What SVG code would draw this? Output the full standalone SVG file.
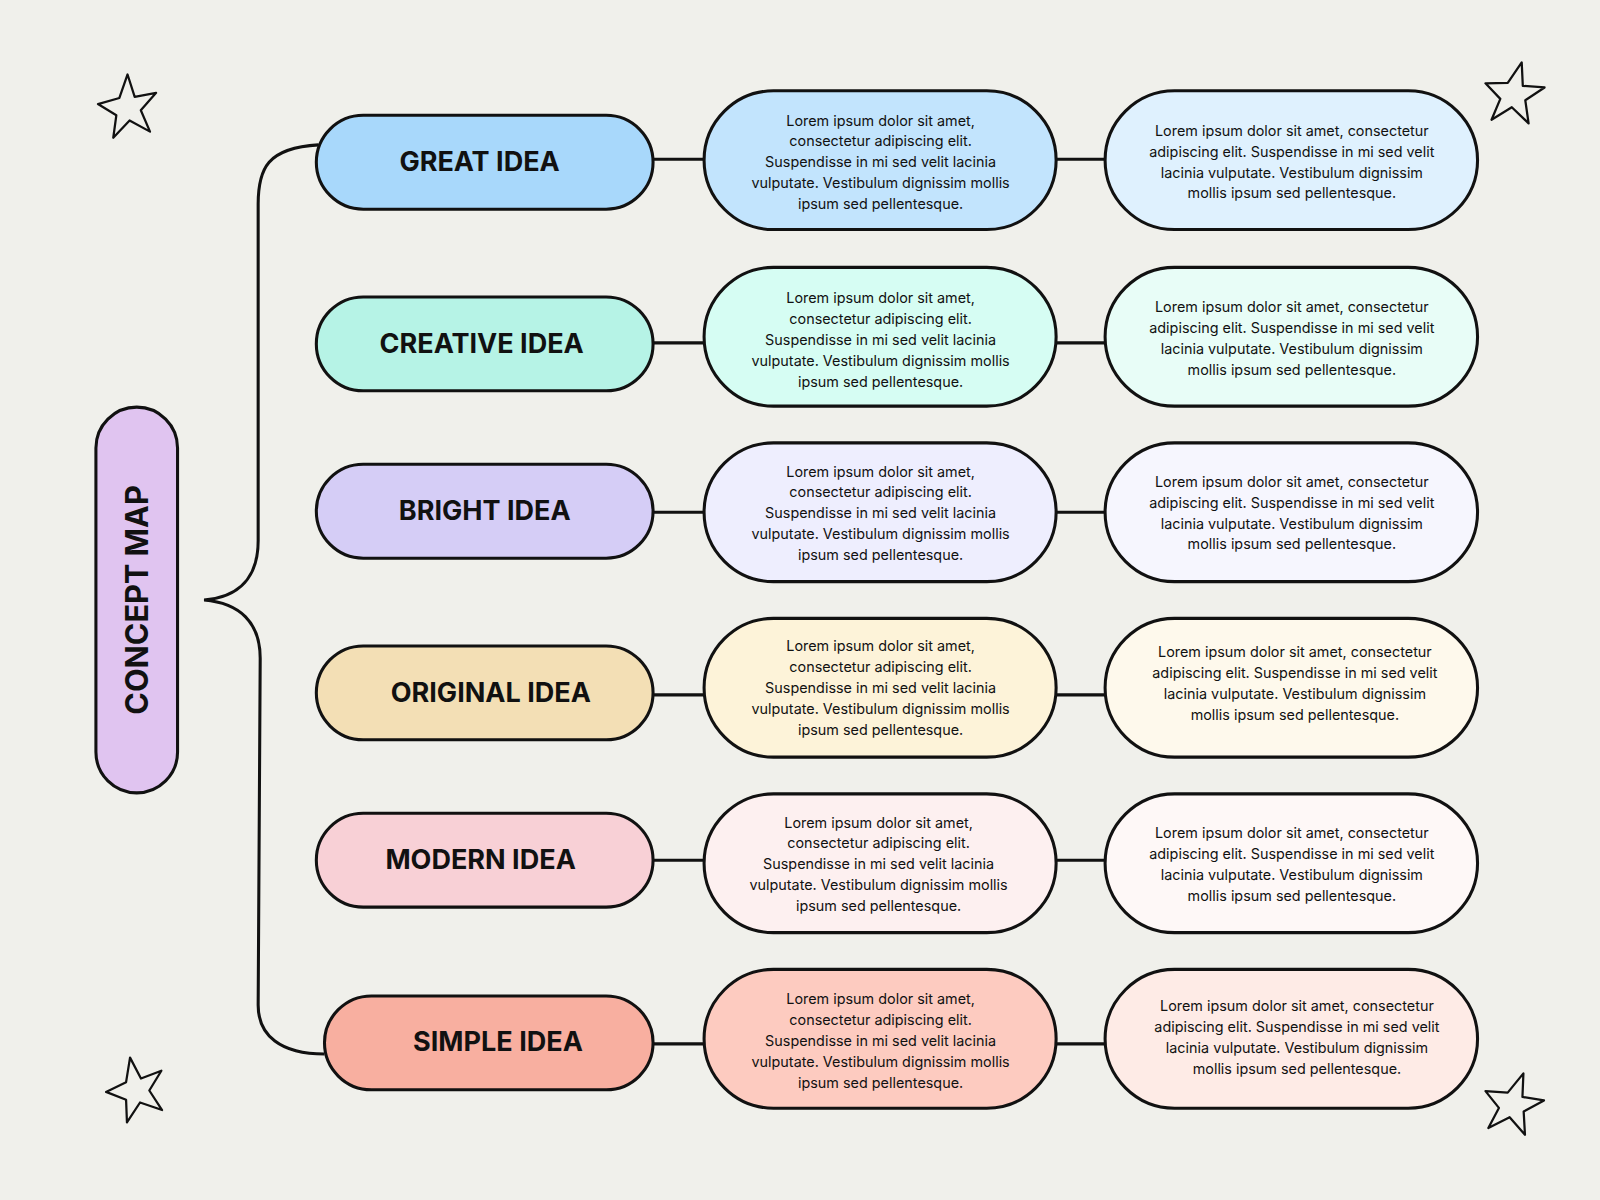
<svg xmlns="http://www.w3.org/2000/svg" width="1600" height="1200" viewBox="0 0 1600 1200">
<defs>
<style>
.o{stroke:#111;stroke-width:3}
.l{font-family:Inter,"Liberation Sans",sans-serif;font-weight:700;font-size:26.5px;fill:#111;text-anchor:middle}
.t{font-family:Inter,"Liberation Sans",sans-serif;font-size:14.1px;fill:#111;text-anchor:middle}
.c{stroke:#111;stroke-width:3;fill:none}
.s{fill:none;stroke:#111;stroke-width:2.2;stroke-linejoin:round}
</style>
<path id="star" d="M0,-32 L7,-10 L28,-14 L13,3 L22,24 L2,13 L-14,30 L-11,8 L-29,-3 L-8,-9 Z"/>
</defs>
<rect width="1600" height="1200" fill="#f0f0eb"/>
<g transform="scale(1.020408)">
<g id="stars">
<use href="#star" x="125" y="105" class="s"/>
<use href="#star" x="1483" y="92" class="s" transform="rotate(15 1483 92)"/>
<use href="#star" x="133" y="1068" class="s" transform="rotate(-10 133 1068)"/>
<use href="#star" x="1482" y="1082" class="s" transform="rotate(20 1482 1082)"/>
</g>
<g id="connectors">
<path class="c" d="M312,142 C262,145 253,165 253,200 L253,530 C253,565 235,585 200,588 C235,591 255,610 255,645 L253,985 C253,1015 275,1033 318,1033"/>
<path class="c" d="M640,156H690M1035,156H1083M640,336H690M1035,336H1083M640,502H690M1035,502H1083M640,681H690M1035,681H1083M640,843H690M1035,843H1083M640,1023H690M1035,1023H1083"/>
</g>
<g id="concept"><rect x="94" y="399" width="80" height="378" rx="40" fill="#e0c4f0" class="o"/><text class="l" transform="translate(145,588) rotate(-90)" style="font-size:30px">CONCEPT MAP</text></g>

<g id="great"><rect x="310" y="113" width="330" height="92" rx="46" fill="#a8d8fb" class="o"/><text class="l" x="470" y="168">GREAT IDEA</text></g>
<g id="creative"><rect x="310" y="291" width="330" height="92" rx="46" fill="#b6f3e6" class="o"/><text class="l" x="472" y="346">CREATIVE IDEA</text></g>
<g id="bright"><rect x="310" y="455" width="330" height="92" rx="46" fill="#d5cdf6" class="o"/><text class="l" x="475" y="510">BRIGHT IDEA</text></g>
<g id="original"><rect x="310" y="633" width="330" height="92" rx="46" fill="#f3dfb5" class="o"/><text class="l" x="481" y="688">ORIGINAL IDEA</text></g>
<g id="modern"><rect x="310" y="797" width="330" height="92" rx="46" fill="#f8d0d6" class="o"/><text class="l" x="471" y="852">MODERN IDEA</text></g>
<g id="simple"><rect x="318" y="976" width="322" height="92" rx="46" fill="#f8afa0" class="o"/><text class="l" x="488" y="1030">SIMPLE IDEA</text></g>

<g id="m1"><rect x="690" y="89" width="345" height="136" rx="68" fill="#c2e4fd" class="o"/><text class="t" x="863" y="123"><tspan x="863">Lorem ipsum dolor sit amet,</tspan><tspan x="863" dy="20.5">consectetur adipiscing elit.</tspan><tspan x="863" dy="20.5">Suspendisse in mi sed velit lacinia</tspan><tspan x="863" dy="20.5">vulputate. Vestibulum dignissim mollis</tspan><tspan x="863" dy="20.5">ipsum sed pellentesque.</tspan></text></g>
<g id="m2"><rect x="690" y="262" width="345" height="136" rx="68" fill="#d6fdf3" class="o"/><text class="t" x="863" y="297"><tspan x="863">Lorem ipsum dolor sit amet,</tspan><tspan x="863" dy="20.5">consectetur adipiscing elit.</tspan><tspan x="863" dy="20.5">Suspendisse in mi sed velit lacinia</tspan><tspan x="863" dy="20.5">vulputate. Vestibulum dignissim mollis</tspan><tspan x="863" dy="20.5">ipsum sed pellentesque.</tspan></text></g>
<g id="m3"><rect x="690" y="434" width="345" height="136" rx="68" fill="#eeeefe" class="o"/><text class="t" x="863" y="467"><tspan x="863">Lorem ipsum dolor sit amet,</tspan><tspan x="863" dy="20.5">consectetur adipiscing elit.</tspan><tspan x="863" dy="20.5">Suspendisse in mi sed velit lacinia</tspan><tspan x="863" dy="20.5">vulputate. Vestibulum dignissim mollis</tspan><tspan x="863" dy="20.5">ipsum sed pellentesque.</tspan></text></g>
<g id="m4"><rect x="690" y="606" width="345" height="136" rx="68" fill="#fdf3d9" class="o"/><text class="t" x="863" y="638"><tspan x="863">Lorem ipsum dolor sit amet,</tspan><tspan x="863" dy="20.5">consectetur adipiscing elit.</tspan><tspan x="863" dy="20.5">Suspendisse in mi sed velit lacinia</tspan><tspan x="863" dy="20.5">vulputate. Vestibulum dignissim mollis</tspan><tspan x="863" dy="20.5">ipsum sed pellentesque.</tspan></text></g>
<g id="m5"><rect x="690" y="778" width="345" height="136" rx="68" fill="#fdf0f0" class="o"/><text class="t" x="861" y="811"><tspan x="861">Lorem ipsum dolor sit amet,</tspan><tspan x="861" dy="20.5">consectetur adipiscing elit.</tspan><tspan x="861" dy="20.5">Suspendisse in mi sed velit lacinia</tspan><tspan x="861" dy="20.5">vulputate. Vestibulum dignissim mollis</tspan><tspan x="861" dy="20.5">ipsum sed pellentesque.</tspan></text></g>
<g id="m6"><rect x="690" y="950" width="345" height="136" rx="68" fill="#fdcbc0" class="o"/><text class="t" x="863" y="984"><tspan x="863">Lorem ipsum dolor sit amet,</tspan><tspan x="863" dy="20.5">consectetur adipiscing elit.</tspan><tspan x="863" dy="20.5">Suspendisse in mi sed velit lacinia</tspan><tspan x="863" dy="20.5">vulputate. Vestibulum dignissim mollis</tspan><tspan x="863" dy="20.5">ipsum sed pellentesque.</tspan></text></g>

<g id="r1"><rect x="1083" y="89" width="365" height="136" rx="68" fill="#dff1fe" class="o"/><text class="t" x="1266" y="133"><tspan x="1266">Lorem ipsum dolor sit amet, consectetur</tspan><tspan x="1266" dy="20.5">adipiscing elit. Suspendisse in mi sed velit</tspan><tspan x="1266" dy="20.5">lacinia vulputate. Vestibulum dignissim</tspan><tspan x="1266" dy="20.5">mollis ipsum sed pellentesque.</tspan></text></g>
<g id="r2"><rect x="1083" y="262" width="365" height="136" rx="68" fill="#e8fdf7" class="o"/><text class="t" x="1266" y="306"><tspan x="1266">Lorem ipsum dolor sit amet, consectetur</tspan><tspan x="1266" dy="20.5">adipiscing elit. Suspendisse in mi sed velit</tspan><tspan x="1266" dy="20.5">lacinia vulputate. Vestibulum dignissim</tspan><tspan x="1266" dy="20.5">mollis ipsum sed pellentesque.</tspan></text></g>
<g id="r3"><rect x="1083" y="434" width="365" height="136" rx="68" fill="#f6f6fe" class="o"/><text class="t" x="1266" y="477"><tspan x="1266">Lorem ipsum dolor sit amet, consectetur</tspan><tspan x="1266" dy="20.5">adipiscing elit. Suspendisse in mi sed velit</tspan><tspan x="1266" dy="20.5">lacinia vulputate. Vestibulum dignissim</tspan><tspan x="1266" dy="20.5">mollis ipsum sed pellentesque.</tspan></text></g>
<g id="r4"><rect x="1083" y="606" width="365" height="136" rx="68" fill="#fef9ec" class="o"/><text class="t" x="1269" y="644"><tspan x="1269">Lorem ipsum dolor sit amet, consectetur</tspan><tspan x="1269" dy="20.5">adipiscing elit. Suspendisse in mi sed velit</tspan><tspan x="1269" dy="20.5">lacinia vulputate. Vestibulum dignissim</tspan><tspan x="1269" dy="20.5">mollis ipsum sed pellentesque.</tspan></text></g>
<g id="r5"><rect x="1083" y="778" width="365" height="136" rx="68" fill="#fef8f7" class="o"/><text class="t" x="1266" y="821"><tspan x="1266">Lorem ipsum dolor sit amet, consectetur</tspan><tspan x="1266" dy="20.5">adipiscing elit. Suspendisse in mi sed velit</tspan><tspan x="1266" dy="20.5">lacinia vulputate. Vestibulum dignissim</tspan><tspan x="1266" dy="20.5">mollis ipsum sed pellentesque.</tspan></text></g>
<g id="r6"><rect x="1083" y="950" width="365" height="136" rx="68" fill="#feebe6" class="o"/><text class="t" x="1271" y="991"><tspan x="1271">Lorem ipsum dolor sit amet, consectetur</tspan><tspan x="1271" dy="20.5">adipiscing elit. Suspendisse in mi sed velit</tspan><tspan x="1271" dy="20.5">lacinia vulputate. Vestibulum dignissim</tspan><tspan x="1271" dy="20.5">mollis ipsum sed pellentesque.</tspan></text></g>
</g>
</svg>
